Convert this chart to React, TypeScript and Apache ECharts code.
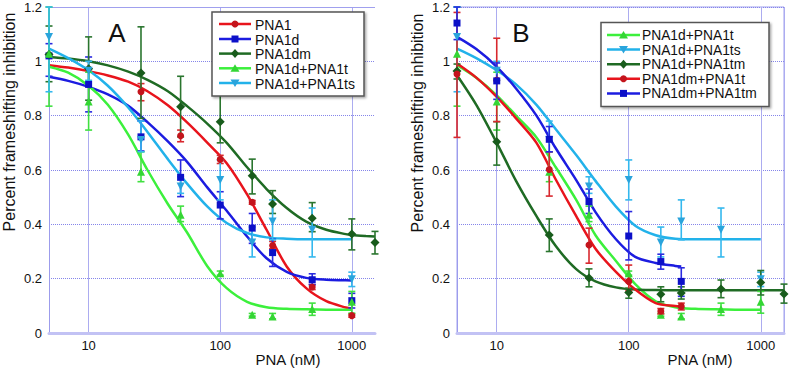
import React, { useEffect, useRef } from 'react';
import * as echarts from 'echarts';

// PNA concentrations (nM) at which frameshifting was measured
const doses = [5, 10, 25, 50, 100, 175, 250, 500, 1000, 1500];

// Decades that carry a vertical grid line
const decades = [10, 100, 1000];

// ---- Panel A: measured means and error-bar limits ----
const pna1Mean = [null, null, 0.888, 0.726, 0.639, 0.481, 0.322, 0.169, 0.064, null];
const pna1Lo = [null, null, 0.855, 0.704, 0.624, 0.474, 0.31, 0.16, 0.058, null];
const pna1Hi = [null, null, 0.918, 0.747, 0.654, 0.488, 0.337, 0.178, 0.07, null];

const pna1dMean = [1.02, 0.915, 0.722, 0.573, 0.471, 0.386, 0.296, 0.196, 0.119, null];
const pna1dLo = [0.945, 0.814, 0.67, 0.502, 0.42, 0.33, 0.245, 0.178, 0.092, null];
const pna1dHi = [1.065, 1.016, 0.78, 0.637, 0.52, 0.44, 0.345, 0.218, 0.146, null];

const pna1dmMean = [1.025, 0.973, 0.957, 0.833, 0.778, 0.579, 0.475, 0.422, 0.364, 0.333];
const pna1dmLo = [0.925, 0.857, 0.79, 0.722, 0.7, 0.512, 0.44, 0.373, 0.306, 0.291];
const pna1dmHi = [1.13, 1.09, 1.127, 0.945, 0.89, 0.64, 0.524, 0.48, 0.42, 0.374];

const pna1dtMean = [1.028, 0.852, 0.594, 0.435, 0.22, 0.067, 0.061, 0.088, 0.115, null];
const pna1dtLo = [0.835, 0.747, 0.557, 0.41, 0.213, 0.062, 0.052, 0.065, 0.073, null];
const pna1dtHi = [1.2, 0.96, 0.667, 0.467, 0.228, 0.072, 0.072, 0.11, 0.153, null];

const pna1dtsMean = [1.09, 0.965, 0.71, 0.539, 0.563, 0.333, 0.41, 0.38, 0.198, null];
const pna1dtsLo = [0.888, 0.93, 0.667, 0.514, 0.49, 0.28, 0.343, 0.28, 0.171, null];
const pna1dtsHi = [1.2, 1.0, 0.78, 0.575, 0.637, 0.39, 0.49, 0.46, 0.224, null];

// ---- Panel B: measured means and error-bar limits ----
const pna1dtmMean = [0.964, 0.704, 0.361, 0.202, 0.149, 0.143, 0.147, 0.162, 0.186, 0.144];
const pna1dtmLo = [0.935, 0.618, 0.3, 0.17, 0.128, 0.115, 0.125, 0.13, 0.14, 0.11];
const pna1dtmHi = [0.99, 0.778, 0.42, 0.236, 0.165, 0.17, 0.17, 0.195, 0.23, 0.18];

const pna1dmtMean = [0.953, 0.93, 0.602, 0.324, 0.19, 0.08, 0.098, null, null, null];
const pna1dmtLo = [0.72, 0.778, 0.504, 0.257, 0.155, 0.07, 0.085, null, null, null];
const pna1dmtHi = [1.18, 1.085, 0.667, 0.386, 0.25, 0.09, 0.11, null, null, null];

const pna1dmtmMean = [1.141, 0.928, 0.713, 0.484, 0.357, 0.263, 0.19, null, null, null];
const pna1dmtmLo = [1.08, 0.86, 0.667, 0.44, 0.269, 0.235, 0.135, null, null, null];
const pna1dmtmHi = [1.2, 0.994, 0.76, 0.53, 0.447, 0.29, 0.24, null, null, null];

// ---- Fitted dose-response curves, sampled at roughly even log steps ----
const fitX = [5, 7, 10, 14, 20, 28, 40, 56, 80, 112, 160, 225, 320, 450, 640, 900, 1000];
const fitXLong = [5, 7, 10, 14, 20, 28, 40, 56, 80, 112, 160, 225, 320, 450, 640, 900, 1000, 1280, 1500];
const fitXShort = [5, 7, 10, 14, 20, 28, 40, 56, 80, 112, 160, 225, 250];

const fitPna1 = [0.986, 0.977, 0.964, 0.948, 0.925, 0.89, 0.838, 0.775, 0.7, 0.625, 0.51, 0.38, 0.245, 0.165, 0.117, 0.094, 0.09];
const fitPna1d = [0.943, 0.928, 0.906, 0.878, 0.836, 0.776, 0.705, 0.63, 0.535, 0.45, 0.355, 0.275, 0.225, 0.203, 0.196, 0.194, 0.193];
const fitPna1dm = [1.016, 1.01, 1.0, 0.985, 0.962, 0.932, 0.89, 0.835, 0.77, 0.7, 0.61, 0.53, 0.46, 0.41, 0.38, 0.364, 0.361, 0.357, 0.355];
const fitPna1dtA = [0.98, 0.958, 0.91, 0.84, 0.73, 0.6, 0.475, 0.37, 0.245, 0.165, 0.115, 0.095, 0.089, 0.087, 0.086, 0.086, 0.086];
const fitPna1dtsA = [1.047, 1.012, 0.967, 0.91, 0.83, 0.74, 0.64, 0.55, 0.465, 0.405, 0.368, 0.352, 0.347, 0.345, 0.345, 0.345, 0.345];

const fitPna1dtB = [0.986, 0.94, 0.875, 0.8, 0.72, 0.61, 0.49, 0.36, 0.265, 0.18, 0.117, 0.095, 0.089, 0.087, 0.086, 0.086, 0.086];
const fitPna1dtsB = [1.047, 1.012, 0.967, 0.915, 0.84, 0.75, 0.655, 0.56, 0.465, 0.395, 0.36, 0.347, 0.345, 0.345, 0.345, 0.345, 0.345];
const fitPna1dtm = [0.949, 0.84, 0.7, 0.56, 0.43, 0.32, 0.235, 0.19, 0.168, 0.16, 0.158, 0.157, 0.157, 0.157, 0.157, 0.157, 0.157, 0.157, 0.157];
const fitPna1dmt = [0.992, 0.94, 0.869, 0.79, 0.7, 0.565, 0.43, 0.31, 0.225, 0.16, 0.11, 0.099, 0.098];
const fitPna1dmtm = [1.09, 1.045, 0.98, 0.9, 0.8, 0.68, 0.563, 0.445, 0.345, 0.28, 0.258, 0.247, 0.245];

const FONT = "'Liberation Sans', Arial, Helvetica, sans-serif";
const FRAME = '#a0a0ee';
const VGRID = '#acacf0';

const RED = { line: '#e8141c', mark: '#c4141c', bar: '#d8282e' };
const BLUE = { line: '#1c1ce0', mark: '#0c10c8', bar: '#2a2ae0' };
const DKGREEN = { line: '#1f6b24', mark: '#185c1c', bar: '#2a752e' };
const GREEN = { line: '#3cf03c', mark: '#34d634', bar: '#40e040' };
const CYAN = { line: '#22b2ea', mark: '#2aa4dc', bar: '#34b8ee' };

type Col = { line: string; mark: string; bar: string };

const pairs = (xs: number[], ys: (number | null)[]) =>
  xs.map((x, i) => [x, ys[i]]).filter((p) => p[1] !== null);

const triples = (xs: number[], lo: (number | null)[], hi: (number | null)[]) =>
  xs.map((x, i) => [x, lo[i], hi[i]]).filter((p) => p[1] !== null && p[2] !== null);

function curveSeries(name: string, idx: number, xs: number[], ys: number[], col: Col) {
  return {
    name,
    type: 'line',
    xAxisIndex: idx,
    yAxisIndex: idx,
    data: pairs(xs, ys),
    showSymbol: false,
    smooth: 0.3,
    lineStyle: { color: col.line, width: 2.5 },
    itemStyle: { color: col.line },
    z: 2,
    silent: true,
  };
}

// Vertical decade grid lines for panel A, placed through the x scale
function decadeGridSeries(idx: number) {
  return {
    type: 'line',
    xAxisIndex: idx,
    yAxisIndex: idx,
    data: [],
    silent: true,
    z: 0,
    markLine: {
      silent: true,
      z: 0,
      symbol: 'none',
      label: { show: false },
      lineStyle: { color: VGRID, width: 1, type: 'solid' },
      data: decades.map((d) => ({ xAxis: d })),
    },
  };
}

function errorSeries(name: string, idx: number, lo: (number | null)[], hi: (number | null)[], col: Col) {
  return {
    name,
    type: 'custom',
    xAxisIndex: idx,
    yAxisIndex: idx,
    data: triples(doses, lo, hi),
    encode: { x: 0, y: [1, 2] },
    clip: false,
    z: 3,
    silent: true,
    renderItem: (_params: any, api: any) => {
      const x = api.value(0);
      const top = api.coord([x, api.value(2)]);
      const bot = api.coord([x, api.value(1)]);
      const w = 3.5;
      const style = { stroke: col.bar, lineWidth: 1.6 };
      return {
        type: 'group',
        children: [
          { type: 'line', shape: { x1: top[0], y1: top[1], x2: bot[0], y2: bot[1] }, style },
          { type: 'line', shape: { x1: top[0] - w, y1: top[1], x2: top[0] + w, y2: top[1] }, style },
          { type: 'line', shape: { x1: bot[0] - w, y1: bot[1], x2: bot[0] + w, y2: bot[1] }, style },
        ],
      };
    },
  };
}

function pointSeries(name: string, idx: number, ys: (number | null)[], col: Col, symbol: string, size: number, rotate = 0, z = 4) {
  return {
    name,
    type: 'scatter',
    xAxisIndex: idx,
    yAxisIndex: idx,
    data: pairs(doses, ys),
    symbol,
    symbolSize: size,
    symbolRotate: rotate,
    itemStyle: { color: col.mark, opacity: 1 },
    clip: false,
    z,
    silent: true,
  };
}

function markerShape(kind: string, cx: number, cy: number, color: string) {
  const style = { fill: color };
  if (kind === 'circle') return { type: 'circle', shape: { cx, cy, r: 3.5 }, style, z: 101 };
  if (kind === 'rect') return { type: 'rect', shape: { x: cx - 3.5, y: cy - 3.5, width: 7, height: 7 }, style, z: 101 };
  if (kind === 'diamond')
    return { type: 'polygon', shape: { points: [[cx, cy - 4.5], [cx + 4, cy], [cx, cy + 4.5], [cx - 4, cy]] }, style, z: 101 };
  if (kind === 'up')
    return { type: 'polygon', shape: { points: [[cx, cy - 4], [cx + 4.5, cy + 3.5], [cx - 4.5, cy + 3.5]] }, style, z: 101 };
  return { type: 'polygon', shape: { points: [[cx - 4.5, cy - 3.5], [cx + 4.5, cy - 3.5], [cx, cy + 4]] }, style, z: 101 };
}

function legendBox(
  box: { x: number; y: number; w: number; h: number },
  lineX1: number,
  lineX2: number,
  textX: number,
  rowY: number[],
  fontSize: number,
  items: { name: string; col: Col; marker: string }[]
) {
  const children: any[] = [
    {
      type: 'rect',
      shape: { x: box.x, y: box.y, width: box.w, height: box.h },
      style: { fill: '#ffffff', stroke: '#555555', lineWidth: 1.5, shadowBlur: 2, shadowOffsetX: 1.5, shadowOffsetY: 1.5, shadowColor: 'rgba(0,0,0,0.35)' },
      z: 100,
    },
  ];
  items.forEach((it, i) => {
    const y = rowY[i];
    children.push({
      type: 'line',
      shape: { x1: lineX1, y1: y, x2: lineX2, y2: y },
      style: { stroke: it.col.line, lineWidth: 2.5 },
      z: 101,
    });
    children.push(markerShape(it.marker, (lineX1 + lineX2) / 2, y, it.col.mark));
    children.push({
      type: 'text',
      x: textX,
      y: y + 0.5,
      style: { text: it.name, fontSize, lineHeight: fontSize, fontFamily: FONT, fill: '#111', align: 'left', verticalAlign: 'middle' },
      z: 101,
    });
  });
  return { type: 'group', children };
}

function xAxisCfg(idx: number, showSplit: boolean) {
  return {
    type: 'log',
    logBase: 10,
    gridIndex: idx,
    min: 5,
    max: 1500,
    axisLine: { show: true, onZero: false, lineStyle: { color: '#c2c2f4', width: 3 } },
    axisTick: { show: false },
    axisLabel: {
      fontSize: 13,
      fontFamily: FONT,
      color: '#111',
      margin: 6,
      showMinLabel: false,
      showMaxLabel: false,
      formatter: (v: number) => {
        const l = Math.log10(v);
        return Math.abs(l - Math.round(l)) < 1e-6 ? String(Math.round(v)) : '';
      },
    },
    splitLine: { show: showSplit, lineStyle: { color: VGRID, width: 1 } },
    minorTick: { show: false },
  };
}

function yAxisCfg(idx: number) {
  return {
    type: 'value',
    gridIndex: idx,
    min: 0,
    max: 1.2,
    interval: 0.2,
    axisLine: { show: true, lineStyle: { color: '#9c9cec', width: 1 } },
    axisTick: { show: false },
    axisLabel: { fontSize: 13, fontFamily: FONT, color: '#111', margin: 7 },
    splitLine: { show: true, lineStyle: { color: '#8585ea', width: 1, type: 'dotted' } },
  };
}

export default function App() {
  const ref = useRef<HTMLDivElement>(null);

  useEffect(() => {
    if (!ref.current) return;
    const chart = echarts.init(ref.current, null, { renderer: 'svg' });

    const series: any[] = [
      decadeGridSeries(0),
      // Panel A curves
      curveSeries('PNA1', 0, fitX, fitPna1, RED),
      curveSeries('PNA1d', 0, fitX, fitPna1d, BLUE),
      curveSeries('PNA1dm', 0, fitXLong, fitPna1dm, DKGREEN),
      curveSeries('PNA1d+PNA1t', 0, fitX, fitPna1dtA, GREEN),
      curveSeries('PNA1d+PNA1ts', 0, fitX, fitPna1dtsA, CYAN),
      // Panel A error bars
      errorSeries('PNA1', 0, pna1Lo, pna1Hi, RED),
      errorSeries('PNA1d', 0, pna1dLo, pna1dHi, BLUE),
      errorSeries('PNA1dm', 0, pna1dmLo, pna1dmHi, DKGREEN),
      errorSeries('PNA1d+PNA1t', 0, pna1dtLo, pna1dtHi, GREEN),
      errorSeries('PNA1d+PNA1ts', 0, pna1dtsLo, pna1dtsHi, CYAN),
      // Panel A points
      pointSeries('PNA1', 0, pna1Mean, RED, 'circle', 7),
      pointSeries('PNA1d', 0, pna1dMean, BLUE, 'rect', 7),
      pointSeries('PNA1dm', 0, pna1dmMean, DKGREEN, 'diamond', 9),
      pointSeries('PNA1d+PNA1ts', 0, pna1dtsMean, CYAN, 'triangle', 8, 180, 5),
      pointSeries('PNA1d+PNA1t', 0, pna1dtMean, GREEN, 'triangle', 8, 0, 6),

      // Panel B curves
      curveSeries('PNA1d+PNA1t', 1, fitX, fitPna1dtB, GREEN),
      curveSeries('PNA1d+PNA1ts', 1, fitX, fitPna1dtsB, CYAN),
      curveSeries('PNA1d+PNA1tm', 1, fitXLong, fitPna1dtm, DKGREEN),
      curveSeries('PNA1dm+PNA1t', 1, fitXShort, fitPna1dmt, RED),
      curveSeries('PNA1dm+PNA1tm', 1, fitXShort, fitPna1dmtm, BLUE),
      // Panel B error bars
      errorSeries('PNA1d+PNA1t', 1, pna1dtLo, pna1dtHi, GREEN),
      errorSeries('PNA1d+PNA1ts', 1, pna1dtsLo, pna1dtsHi, CYAN),
      errorSeries('PNA1d+PNA1tm', 1, pna1dtmLo, pna1dtmHi, DKGREEN),
      errorSeries('PNA1dm+PNA1t', 1, pna1dmtLo, pna1dmtHi, RED),
      errorSeries('PNA1dm+PNA1tm', 1, pna1dmtmLo, pna1dmtmHi, BLUE),
      // Panel B points
      pointSeries('PNA1d+PNA1t', 1, pna1dtMean, GREEN, 'triangle', 8),
      pointSeries('PNA1d+PNA1ts', 1, pna1dtsMean, CYAN, 'triangle', 8, 180),
      pointSeries('PNA1d+PNA1tm', 1, pna1dtmMean, DKGREEN, 'diamond', 9),
      pointSeries('PNA1dm+PNA1t', 1, pna1dmtMean, RED, 'circle', 7),
      pointSeries('PNA1dm+PNA1tm', 1, pna1dmtmMean, BLUE, 'rect', 7, 0, 5),
    ];

    const axisTitle = (text: string, x: number, y: number, rotation = 0, size = 15) => ({
      type: 'text',
      x,
      y,
      rotation,
      style: { text, fontSize: size, fontFamily: FONT, fill: '#111', align: 'center', verticalAlign: 'middle' },
      z: 100,
    });

    chart.setOption({
      animation: false,
      backgroundColor: '#ffffff',
      grid: [
        { left: 49, top: 7, width: 326, height: 326, show: false, outerBoundsMode: 'none' },
        { left: 457, top: 7, width: 327, height: 326, show: true, borderColor: FRAME, borderWidth: 1, outerBoundsMode: 'none' },
      ],
      xAxis: [xAxisCfg(0, false), xAxisCfg(1, true)],
      yAxis: [yAxisCfg(0), yAxisCfg(1)],
      series,
      graphic: [
        // top frame line of panel A (panel A has no right-hand frame)
        { type: 'line', shape: { x1: 49, y1: 7.5, x2: 375, y2: 7.5 }, style: { stroke: FRAME, lineWidth: 1 }, z: 1 },
        axisTitle('Percent frameshifting inhibition', 9, 122, Math.PI / 2, 16),
        axisTitle('Percent frameshifting inhibition', 417, 123, Math.PI / 2, 16),
        axisTitle('PNA (nM)', 288, 359),
        axisTitle('PNA (nM)', 700, 359),
        axisTitle('A', 117, 33, 0, 26),
        axisTitle('B', 521, 33, 0, 26),
        legendBox(
          { x: 212, y: 12, w: 152, h: 84 },
          219,
          251,
          255,
          [24, 39, 53.6, 68.3, 83],
          14,
          [
            { name: 'PNA1', col: RED, marker: 'circle' },
            { name: 'PNA1d', col: BLUE, marker: 'rect' },
            { name: 'PNA1dm', col: DKGREEN, marker: 'diamond' },
            { name: 'PNA1d+PNA1t', col: GREEN, marker: 'up' },
            { name: 'PNA1d+PNA1ts', col: CYAN, marker: 'down' },
          ]
        ),
        legendBox(
          { x: 601, y: 22.5, w: 168, h: 84 },
          607,
          640,
          642,
          [35, 49.6, 64.2, 78.8, 93.4],
          13.8,
          [
            { name: 'PNA1d+PNA1t', col: GREEN, marker: 'up' },
            { name: 'PNA1d+PNA1ts', col: CYAN, marker: 'down' },
            { name: 'PNA1d+PNA1tm', col: DKGREEN, marker: 'diamond' },
            { name: 'PNA1dm+PNA1t', col: RED, marker: 'circle' },
            { name: 'PNA1dm+PNA1tm', col: BLUE, marker: 'rect' },
          ]
        ),
      ],
    });

    return () => chart.dispose();
  }, []);

  return (
    <div
      ref={ref}
      style={{ position: 'absolute', left: 0, top: 0, width: 789, height: 368, background: '#fff' }}
    />
  );
}
